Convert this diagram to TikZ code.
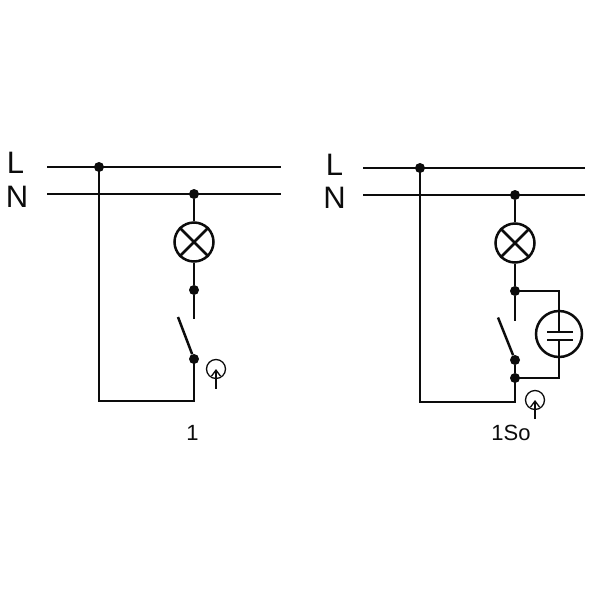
\documentclass[tikz,border=0pt]{standalone}
\usepackage{fontspec}
\setmainfont{Liberation Sans}
\usetikzlibrary{arrows.meta}
\definecolor{ink}{HTML}{0C0C0C}
\tikzset{
  wire/.style={draw=ink,line width=2.5pt},
  dot/.style={circle,fill=ink,inner sep=0pt,minimum size=10pt},
  lampbox/.style={circle,draw=ink,line width=2.5pt,inner sep=0pt,minimum size=39pt},
  capbox/.style={circle,draw=ink,line width=2.5pt,inner sep=0pt,minimum size=46pt},
  sensor/.style={circle,draw=ink,line width=1.3pt,inner sep=0pt,minimum size=19pt},
  pointer/.style={draw=ink,line width=1.3pt,-{Straight Barb[length=6pt,width=9pt,line width=1.3pt]}},
  bigtxt/.style={text=ink,inner sep=0pt,font=\fontsize{31}{31}\selectfont},
  smalltxt/.style={text=ink,inner sep=0pt,font=\fontsize{22}{22}\selectfont}
}
\begin{document}
\begin{tikzpicture}[x=1pt,y=-1pt]
\useasboundingbox[fill=white] (0,0) rectangle (600,600);
% ---- left circuit
\node[bigtxt] (L1) at (15.5,163) {L};
\node[bigtxt] (N1) at (17,196.5) {N};
\coordinate (La) at (47,167);
\coordinate (Lb) at (281,167);
\coordinate (Na) at (47,194);
\coordinate (Nb) at (281,194);
\node[dot] (d1) at (99,167) {};
\node[dot] (d2) at (194,194) {};
\node[lampbox] (lamp1) at (194,242) {};
\node[dot] (d3) at (194,290) {};
\coordinate (c1) at (194,319);
\coordinate (s1) at (178,317);
\node[dot] (d4) at (194,359) {};
\coordinate (b1) at (194,401);
\coordinate (b2) at (99,401);
\draw[wire] (La) -- (Lb);
\draw[wire] (Na) -- (Nb);
\draw[wire] (d2) -- (lamp1);
\draw[wire] (lamp1) -- (d3) -- (c1);
\draw[wire] (lamp1.45) -- (lamp1.225);
\draw[wire] (lamp1.135) -- (lamp1.315);
\draw[wire] (s1) -- (d4);
\draw[wire,line join=miter] (d4.center) -- (b1) -- (b2) -- (d1.center);
\node[sensor] (sn1) at (216,369) {};
\coordinate (ar1) at (216,388.5);
\draw[pointer] (ar1) -- (sn1.center);
\node[smalltxt] (t1) at (192.5,433) {1};
% ---- right circuit
\node[bigtxt] (L2) at (334.5,164.5) {L};
\node[bigtxt] (N2) at (334.5,198) {N};
\coordinate (La2) at (363,168);
\coordinate (Lb2) at (585,168);
\coordinate (Na2) at (363,195);
\coordinate (Nb2) at (585,195);
\node[dot] (e1) at (420,168) {};
\node[dot] (e2) at (515,195) {};
\node[lampbox] (lamp2) at (515,243) {};
\node[dot] (e3) at (515,291) {};
\coordinate (c2) at (515,320.5);
\coordinate (s2) at (498,317.5);
\node[dot] (e4) at (515,360) {};
\node[dot] (e5) at (515,378) {};
\coordinate (b3) at (515,402);
\coordinate (b4) at (420,402);
\coordinate (r1) at (559,291);
\coordinate (r2) at (559,378);
\node[capbox] (cap) at (559,334) {};
\coordinate (p1l) at (547,332);
\coordinate (p1r) at (573,332);
\coordinate (p2l) at (547,340);
\coordinate (p2r) at (573,340);
\coordinate (p1m) at (559,332);
\coordinate (p2m) at (559,340);
\draw[wire] (La2) -- (Lb2);
\draw[wire] (Na2) -- (Nb2);
\draw[wire] (e2) -- (lamp2);
\draw[wire] (lamp2) -- (e3) -- (c2);
\draw[wire] (lamp2.45) -- (lamp2.225);
\draw[wire] (lamp2.135) -- (lamp2.315);
\draw[wire] (s2) -- (e4);
\draw[wire] (e4) -- (e5);
\draw[wire,line join=miter] (e5.center) -- (b3) -- (b4) -- (e1.center);
\draw[wire,line join=miter] (e3.center) -- (r1) -- (p1m);
\draw[wire,line join=miter] (e5.center) -- (r2) -- (p2m);
\draw[wire] (p1l) -- (p1r);
\draw[wire] (p2l) -- (p2r);
\node[sensor] (sn2) at (535,400) {};
\coordinate (ar2) at (535,419);
\draw[pointer] (ar2) -- (sn2.center);
\node[smalltxt] (t2) at (511,432.5) {1So};
\end{tikzpicture}
\end{document}
